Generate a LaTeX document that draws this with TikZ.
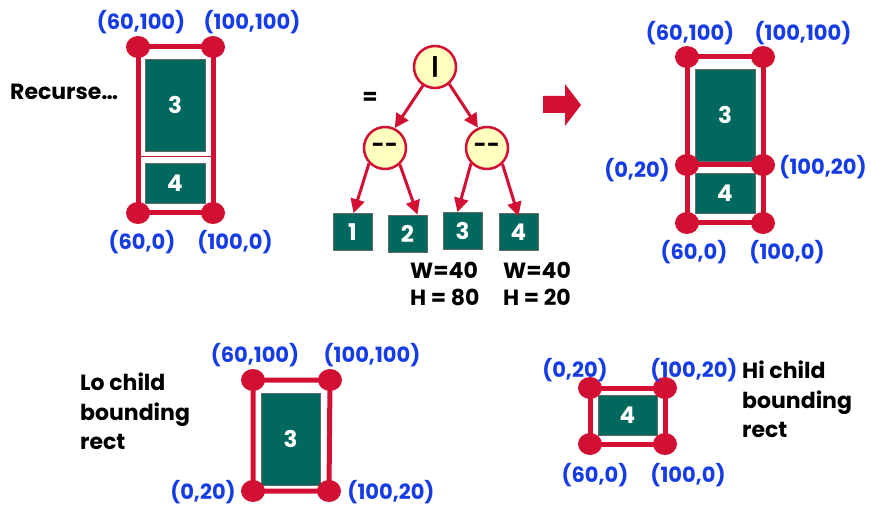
\documentclass[tikz,border=0pt]{standalone}
\usepackage{fontspec}
\setmainfont{Poppins}
\usetikzlibrary{arrows.meta,shapes.geometric}
\definecolor{crim}{RGB}{210,16,52}
\definecolor{tgreen}{RGB}{0,104,92}
\definecolor{pale}{RGB}{255,255,192}
\definecolor{lblue}{RGB}{22,60,230}
\tikzset{
  redline/.style={draw=crim,line width=5pt},
  dot/.style={ellipse,fill=crim,minimum width=24pt,minimum height=22pt,inner sep=0pt},
  gbox/.style={fill=tgreen,draw=black!60,line width=0.6pt},
  gnum/.style={text=white,font=\bfseries\fontsize{23}{23}\selectfont},
  coord/.style={text=lblue,font=\bfseries\fontsize{21}{21}\selectfont,inner sep=0pt},
  btext/.style={text=black,font=\bfseries\fontsize{22}{29.5}\selectfont,inner sep=0pt},
  opnode/.style={circle,fill=pale,draw=crim,line width=2.5pt,minimum size=42pt,inner sep=0pt,font=\bfseries\fontsize{22}{22}\selectfont},
  leaf/.style={fill=tgreen,draw=black!60,line width=0.8pt,minimum width=39pt,minimum height=37pt,inner sep=0pt,text=white,font=\bfseries\fontsize{23}{23}\selectfont},
  tarrow/.style={draw=crim,line width=3pt,-{Triangle[length=14pt,width=14pt]}}
}
\begin{document}
\begin{tikzpicture}[x=1pt,y=-1pt]
\useasboundingbox (0,0) rectangle (871,508);

% ---------- top-left: Recurse ----------
\node[btext,anchor=west] (rec) at (10,92) {Recurse\ldots};
\coordinate (a1) at (138,47); \coordinate (a2) at (213,47);
\coordinate (a3) at (213,213); \coordinate (a4) at (138,213);
\node[gbox,minimum width=60pt,minimum height=92pt,inner sep=0pt] (ag3) at (175,105) {};
\node[gnum] at (ag3) {3};
\node[gbox,minimum width=60pt,minimum height=40pt,inner sep=0pt] (ag4) at (175,183) {};
\node[gnum] at (ag4) {4};
\draw[draw=crim,line width=1pt] (a4 |- 0,157) -- (a3 |- 0,157);
\draw[redline] (a1) -- (a2) -- (a3) -- (a4) -- cycle;
\foreach \p in {a1,a2,a3,a4} \node[dot] (d\p) at (\p) {};
\node[coord] (la1) at (141,22) {(60,100)};
\node[coord] (la2) at (252,22) {(100,100)};
\node[coord] (la4) at (142,242) {(60,0)};
\node[coord] (la3) at (235,242) {(100,0)};

% ---------- tree ----------
\node[btext] (eq) at (370,98) {=};
\node[opnode] (root) at (435,67) {|};
\node[opnode] (lc) at (385,148) {-\kern0.5pt-};
\node[opnode] (rc) at (487,148) {-\kern0.5pt-};
\node[leaf] (l1) at (352.5,232) {1};
\node[leaf] (l2) at (407.5,233.5) {2};
\node[leaf] (l3) at (462.5,231) {3};
\node[leaf] (l4) at (518.5,232) {4};
\draw[tarrow] (root.-123) -- (lc.64);
\draw[tarrow] (root.-50) -- (rc.114);
\draw[tarrow] (lc.-136) -- ([xshift=1pt]l1.north);
\draw[tarrow] (lc.-48) -- ([xshift=10pt]l2.north);
\draw[tarrow] (rc.-136) -- ([xshift=-5pt]l3.north);
\draw[tarrow] (rc.-46) -- ([yshift=-3pt]l4.north);
\node[btext,anchor=west] (w1) at (410,270) {W=40};
\node[btext,anchor=west] (h1) at (410,297) {H = 80};
\node[btext,anchor=west] (w2) at (503,270) {W=40};
\node[btext,anchor=west] (h2) at (503,297) {H = 20};

% ---------- block arrow ----------
\fill[crim] (543,96) -- (565,96) -- (565,84) -- (581,105) -- (565,126) -- (565,113) -- (543,113) -- cycle;

% ---------- top-right ----------
\coordinate (b1) at (687,57); \coordinate (b2) at (763,57);
\coordinate (b3) at (763,165); \coordinate (b4) at (687,165);
\coordinate (b5) at (763,223); \coordinate (b6) at (687,223);
\node[gbox,minimum width=60pt,minimum height=92pt,inner sep=0pt] (bg3) at (725,115) {};
\node[gnum] at (bg3) {3};
\node[gbox,minimum width=60pt,minimum height=40pt,inner sep=0pt] (bg4) at (725,193) {};
\node[gnum] at (bg4) {4};
\draw[redline] (b1) -- (b2) -- (b5) -- (b6) -- cycle;
\draw[redline] (b4) -- (b3);
\foreach \p in {b1,b2,b3,b4,b5,b6} \node[dot] (d\p) at (\p) {};
\node[coord] (lb1) at (690,33) {(60,100)};
\node[coord] (lb2) at (803,33) {(100,100)};
\node[coord] (lb4) at (637,170) {(0,20)};
\node[coord] (lb3) at (823,167) {(100,20)};
\node[coord] (lb6) at (694,252) {(60,0)};
\node[coord] (lb5) at (787,252) {(100,0)};

% ---------- bottom-left: Lo child ----------
\node[btext,anchor=north west,align=left] (lo) at (80,373) {Lo child\\bounding\\rect};
\coordinate (c1) at (253,380); \coordinate (c2) at (330,380);
\coordinate (c3) at (329,491); \coordinate (c4) at (253,491);
\node[gbox,minimum width=59pt,minimum height=92pt,inner sep=0pt] (cg3) at (290.5,439) {};
\node[gnum] at (cg3) {3};
\draw[redline] (c1) -- (c2) -- (c3) -- (c4) -- cycle;
\foreach \p in {c1,c2,c3,c4} \node[dot] (d\p) at (\p) {};
\node[coord] (lc1) at (255,355) {(60,100)};
\node[coord] (lc2) at (372,355) {(100,100)};
\node[coord] (lc4) at (203,492) {(0,20)};
\node[coord] (lc3) at (391,492) {(100,20)};

% ---------- bottom-right: Hi child ----------
\node[btext,anchor=north west,align=left] (hi) at (742,361) {Hi child\\bounding\\rect};
\coordinate (e1) at (590,388); \coordinate (e2) at (665,388);
\coordinate (e3) at (665,444); \coordinate (e4) at (590,444);
\node[gbox,minimum width=59pt,minimum height=40pt,inner sep=0pt] (eg4) at (627.5,415) {};
\node[gnum] at (eg4) {4};
\draw[redline] (e1) -- (e2) -- (e3) -- (e4) -- cycle;
\foreach \p in {e1,e2,e3,e4} \node[dot] (d\p) at (\p) {};
\node[coord] (le1) at (575,370) {(0,20)};
\node[coord] (le2) at (694,370) {(100,20)};
\node[coord] (le4) at (595,475) {(60,0)};
\node[coord] (le3) at (688,475) {(100,0)};
\end{tikzpicture}
\end{document}
